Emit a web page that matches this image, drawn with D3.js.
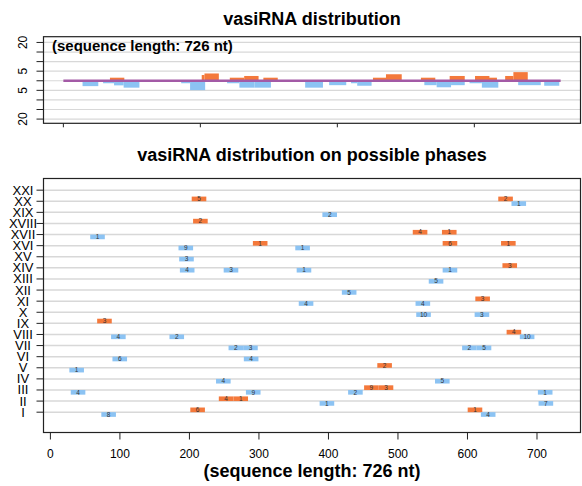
<!DOCTYPE html>
<html>
<head>
<meta charset="utf-8">
<script src="https://cdn.jsdelivr.net/npm/d3@7"></script>
<style>
  html, body { margin: 0; padding: 0; background: #fff; }
  svg { display: block; font-family: "Liberation Sans", Arial, Helvetica, sans-serif; }
</style>
</head>
<body>
<svg id="chart" width="582" height="486"></svg>
<script>
// ---- data ----------------------------------------------------------------
const seqLength = 726;
const phaseLabels = ["I","II","III","IV","V","VI","VII","VIII","IX","X","XI",
                     "XII","XIII","XIV","XV","XVI","XVII","XVIII","XIX","XX","XXI"];
const xTicks = [0, 100, 200, 300, 400, 500, 600, 700];
const overviewXTicks = [0, 200, 400, 600];
const overviewYTicks = [-20, -15, -10, -5, 0, 5, 10, 15, 20];
const overviewYLabels = { "20": "20", "5": "5", "-5": "5", "-20": "20" };

// sense reads (plus strand): [phase, start nt, count]
const senseReads = [
  [1, 202, 6], [1, 601, 1],
  [2, 243, 4], [2, 264, 1],
  [3, 452, 9], [3, 473, 3],
  [5, 471, 2],
  [8, 657, 4],
  [9, 68, 3],
  [11, 612, 3],
  [14, 651, 3],
  [16, 292, 1], [16, 565, 6], [16, 649, 1],
  [17, 522, 4], [17, 564, 1],
  [18, 206, 2],
  [20, 204, 5], [20, 645, 2]
];
// antisense reads (minus strand): [phase, start nt, count]
const antisenseReads = [
  [1, 74, 8], [1, 620, 4],
  [2, 388, 1], [2, 703, 7],
  [3, 30, 4], [3, 282, 9], [3, 429, 2], [3, 702, 1],
  [4, 239, 4], [4, 554, 5],
  [5, 28, 1],
  [6, 90, 6], [6, 279, 4],
  [7, 257, 2], [7, 278, 3], [7, 593, 2], [7, 614, 5],
  [8, 88, 4], [8, 172, 2], [8, 676, 10],
  [10, 527, 10], [10, 611, 3],
  [11, 358, 4], [11, 526, 4],
  [12, 420, 5],
  [13, 545, 5],
  [14, 187, 4], [14, 250, 3], [14, 355, 1], [14, 565, 1],
  [15, 186, 3],
  [16, 185, 9], [16, 353, 1],
  [17, 58, 1],
  [19, 392, 2],
  [20, 664, 1]
];
const readLength = 21;

// overview profile, plus strand: [from nt, to nt, level]
const senseProfile = [
  [68, 89, 1.6], [202, 206, 3.0], [206, 227, 3.8], [243, 264, 1.6],
  [264, 285, 2.5], [292, 313, 1.6], [452, 473, 1.6], [471, 494, 3.4],
  [522, 543, 1.6], [564, 586, 2.5], [601, 622, 2.5], [612, 633, 1.6],
  [645, 657, 2.5], [657, 678, 4.5]
];
// overview profile, minus strand: [from nt, to nt, level]
const antisenseProfile = [
  [28, 51, 2.8], [58, 74, 1.3], [74, 88, 2.4], [88, 111, 3.6],
  [172, 185, 1.3], [185, 207, 4.9], [239, 257, 1.3], [257, 279, 3.6],
  [279, 303, 3.6], [353, 379, 3.6], [388, 413, 2.3], [420, 429, 1.3],
  [429, 450, 2.6], [527, 545, 2.3], [545, 566, 3.4], [566, 586, 2.3],
  [593, 611, 1.3], [611, 635, 3.6], [664, 697, 2.3], [702, 724, 2.6]
];

// ---- styling ---------------------------------------------------------------
const senseColor = "#f4793b";
const antisenseColor = "#8cc3f3";
const baselineColor = "#a35aa6";
const gridColor = "#d8d8d8";
const frameColor = "#222";

const svg = d3.select("#chart");

// ---- overview panel --------------------------------------------------------
const ovBox = { left: 43.5, right: 580.5, top: 36.7, bottom: 123.3 };
const xo = d3.scaleLinear().domain([-29, 755]).range([ovBox.left, ovBox.right]);
const yo = d3.scaleLinear().domain([-22.2, 23]).range([ovBox.bottom, ovBox.top]);

svg.append("text")
  .attr("x", (ovBox.left + ovBox.right) / 2).attr("y", 25)
  .attr("text-anchor", "middle")
  .attr("font-size", 18).attr("font-weight", "bold")
  .text("vasiRNA distribution");

const gTop = svg.append("g");
gTop.selectAll("line.grid").data(overviewYTicks).join("line")
  .attr("class", "grid")
  .attr("x1", ovBox.left).attr("x2", ovBox.right)
  .attr("y1", d => yo(d)).attr("y2", d => yo(d))
  .attr("stroke", gridColor).attr("stroke-width", 1.2);

gTop.selectAll("rect.sense").data(senseProfile).join("rect")
  .attr("class", "sense")
  .attr("x", d => xo(d[0])).attr("width", d => xo(d[1]) - xo(d[0]))
  .attr("y", d => yo(d[2])).attr("height", d => yo(0) - yo(d[2]))
  .attr("fill", senseColor);

gTop.selectAll("rect.anti").data(antisenseProfile).join("rect")
  .attr("class", "anti")
  .attr("x", d => xo(d[0])).attr("width", d => xo(d[1]) - xo(d[0]))
  .attr("y", yo(0)).attr("height", d => yo(-d[2]) - yo(0))
  .attr("fill", antisenseColor);

gTop.append("line")
  .attr("x1", xo(0)).attr("x2", xo(seqLength))
  .attr("y1", yo(0)).attr("y2", yo(0))
  .attr("stroke", baselineColor).attr("stroke-width", 2.5);

gTop.append("rect")
  .attr("x", ovBox.left).attr("y", ovBox.top)
  .attr("width", ovBox.right - ovBox.left).attr("height", ovBox.bottom - ovBox.top)
  .attr("fill", "none").attr("stroke", frameColor).attr("stroke-width", 1.2);

gTop.append("text")
  .attr("x", 52).attr("y", 50.5)
  .attr("font-size", 15).attr("font-weight", "bold")
  .text("(sequence length: " + seqLength + " nt)");

// left axis of overview (rotated labels)
const yAxisTop = gTop.append("g");
yAxisTop.selectAll("line").data(overviewYTicks).join("line")
  .attr("x1", ovBox.left - 7).attr("x2", ovBox.left)
  .attr("y1", d => yo(d)).attr("y2", d => yo(d))
  .attr("stroke", frameColor).attr("stroke-width", 1);
yAxisTop.selectAll("text").data(overviewYTicks.filter(d => overviewYLabels[d] !== undefined)).join("text")
  .attr("transform", d => `translate(${ovBox.left - 17},${yo(d)}) rotate(-90)`)
  .attr("text-anchor", "middle")
  .attr("font-size", 12)
  .text(d => overviewYLabels[d]);

// bottom ticks of overview (no labels)
gTop.selectAll("line.xt").data(overviewXTicks).join("line")
  .attr("class", "xt")
  .attr("x1", d => xo(d)).attr("x2", d => xo(d))
  .attr("y1", ovBox.bottom).attr("y2", ovBox.bottom + 4)
  .attr("stroke", frameColor).attr("stroke-width", 1);

// ---- phase panel -----------------------------------------------------------
const phBox = { left: 43.5, right: 580.5, top: 178.5, bottom: 432.5 };
const xb = d3.scaleLinear().domain([-9.2, 763.3]).range([phBox.left, phBox.right]);
const yb = d3.scaleLinear().domain([-0.83, 22.05]).range([phBox.bottom, phBox.top]);
const barH = 0.42;

svg.append("text")
  .attr("x", (phBox.left + phBox.right) / 2).attr("y", 161)
  .attr("text-anchor", "middle")
  .attr("font-size", 18).attr("font-weight", "bold")
  .text("vasiRNA distribution on possible phases");

const gBot = svg.append("g");
gBot.selectAll("line.grid").data(phaseLabels).join("line")
  .attr("class", "grid")
  .attr("x1", phBox.left).attr("x2", phBox.right)
  .attr("y1", (d, i) => yb(i + 1)).attr("y2", (d, i) => yb(i + 1))
  .attr("stroke", gridColor).attr("stroke-width", 1.5);

function drawReads(reads, cls, color, above) {
  const g = gBot.append("g").attr("class", cls);
  const cell = g.selectAll("g").data(reads).join("g");
  cell.append("rect")
    .attr("x", d => xb(d[1]))
    .attr("width", d => xb(d[1] + readLength) - xb(d[1]))
    .attr("y", d => above ? yb(d[0] + barH) : yb(d[0]))
    .attr("height", yb(0) - yb(barH))
    .attr("fill", color);
  cell.append("text")
    .attr("x", d => (xb(d[1]) + xb(d[1] + readLength)) / 2)
    .attr("y", d => (above ? yb(d[0] + barH / 2) : yb(d[0] - barH / 2)) + 2.2)
    .attr("text-anchor", "middle")
    .attr("font-size", 6.5)
    .attr("fill", "#333")
    .text(d => d[2]);
}
drawReads(senseReads, "sense", senseColor, true);
drawReads(antisenseReads, "anti", antisenseColor, false);

gBot.append("rect")
  .attr("x", phBox.left).attr("y", phBox.top)
  .attr("width", phBox.right - phBox.left).attr("height", phBox.bottom - phBox.top)
  .attr("fill", "none").attr("stroke", frameColor).attr("stroke-width", 1.2);

// phase axis
const yAxisBot = gBot.append("g");
yAxisBot.selectAll("line").data(phaseLabels).join("line")
  .attr("x1", phBox.left - 7).attr("x2", phBox.left)
  .attr("y1", (d, i) => yb(i + 1)).attr("y2", (d, i) => yb(i + 1))
  .attr("stroke", frameColor).attr("stroke-width", 1);
yAxisBot.selectAll("text").data(phaseLabels).join("text")
  .attr("x", 23).attr("y", (d, i) => yb(i + 1) + 4.5)
  .attr("text-anchor", "middle")
  .attr("font-size", 13)
  .text(d => d);

// position axis
const xAxisBot = gBot.append("g")
  .attr("transform", `translate(0,${phBox.bottom})`)
  .call(d3.axisBottom(xb).tickValues(xTicks).tickSize(7).tickPadding(10));
xAxisBot.select(".domain").remove();
xAxisBot.selectAll("line").attr("stroke", frameColor);
xAxisBot.selectAll("text")
  .attr("font-size", 12).attr("fill", "#000")
  .attr("font-family", "'Liberation Sans', Arial, sans-serif");

svg.append("text")
  .attr("x", (phBox.left + phBox.right) / 2).attr("y", 477)
  .attr("text-anchor", "middle")
  .attr("font-size", 18).attr("font-weight", "bold")
  .text("(sequence length: " + seqLength + " nt)");
</script>
</body>
</html>
